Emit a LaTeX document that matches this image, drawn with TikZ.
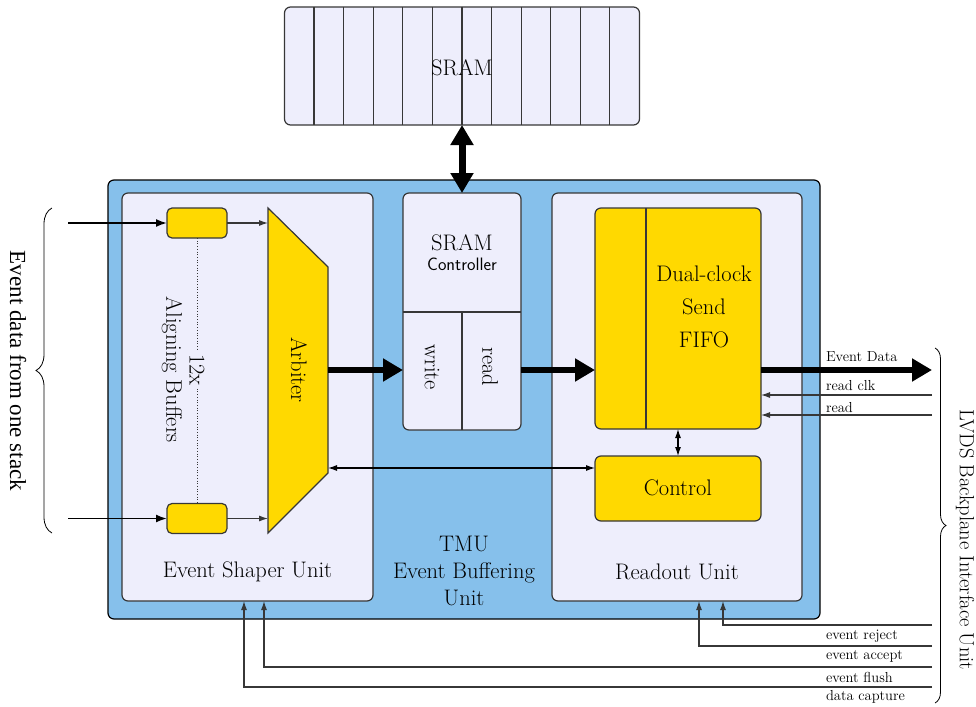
\documentclass[tikz,border=0pt]{standalone}
\usepackage{fontspec}
\newfontfamily\timesfont{Liberation Serif}
\usetikzlibrary{arrows.meta,decorations.pathreplacing,calc}

\definecolor{lav}{RGB}{238,238,252}
\definecolor{tmublue}{RGB}{134,192,235}
\definecolor{gold}{RGB}{255,217,0}
\definecolor{edge}{RGB}{55,55,55}

\begin{document}
\begin{tikzpicture}[x=1pt,y=-1pt,
  line width=1.2pt,
  every node/.style={inner sep=0pt, outer sep=0pt},
  unitbox/.style={draw=edge, fill=lav, rounded corners=6pt},
  goldbox/.style={draw=edge, fill=gold, rounded corners=6pt},
  bigtxt/.style={font=\fontsize{22.5}{27}\selectfont},
  sanstxt/.style={font=\sffamily\fontsize{18}{21}\selectfont},
  sigtxt/.style={font=\fontsize{14.5}{17}\selectfont, anchor=west},
  bus/.style={line width=6pt, -{Triangle[length=20pt,width=22pt]}},
  busboth/.style={line width=7pt, {Triangle[length=20pt,width=22pt]}-{Triangle[length=20pt,width=22pt]}},
  sig/.style={line width=1.1pt, draw=edge, -{Latex[length=9pt,width=6pt]}},
  sigboth/.style={line width=1.1pt, {Latex[length=9pt,width=6pt]}-{Latex[length=9pt,width=6pt]}},
  feed/.style={line width=1.8pt, -{Latex[length=11pt,width=8pt]}},
  bracestyle/.style={decorate, line width=0.8pt}
]
\useasboundingbox (0,0) rectangle (976,706);

% external SRAM with its twelve banks
\node[unitbox, minimum width=355pt, minimum height=118pt] (sram) at (462,66) {};
\foreach \k in {1,...,11}
  \draw[edge] ([xshift=\k*29.58pt]sram.north west) -- ([xshift=\k*29.58pt]sram.south west);
\node[bigtxt] (sramlbl) at (462,68) {SRAM};

% TMU frame and its three units
\node[draw=black, fill=tmublue, rounded corners=6pt, minimum width=712pt, minimum height=439pt] (tmu) at (464,399.5) {};
\node[unitbox, minimum width=251pt, minimum height=408pt] (esu) at (247.5,397) {};
\node[unitbox, minimum width=118pt, minimum height=237pt] (sramctrl) at (462,311.5) {};
\node[unitbox, minimum width=250pt, minimum height=408pt] (rou) at (677,397) {};

\node[bigtxt, align=center] (tmulbl) at (464,571) {TMU\\Event Buffering\\Unit};
\node[bigtxt] (esulbl) at (247.5,572) {Event Shaper Unit};
\node[bigtxt] (roulbl) at (677,572) {Readout Unit};

% SRAM controller partitions
\coordinate (split) at (462,312);
\draw[edge] (split -| sramctrl.west) -- (split -| sramctrl.east);
\draw[edge] (split) -- (split |- sramctrl.south);
\node[bigtxt] (ctrlsram) at (462,243) {SRAM};
\node[sanstxt] (ctrlword) at (462,264) {Controller};
\node[bigtxt, rotate=-90] (wr) at (432,367) {write};
\node[bigtxt, rotate=-90] (rd) at (490,367) {read};

% aligning buffers and arbiter
\node[goldbox, rounded corners=5pt, minimum width=60pt, minimum height=30pt] (buftop) at (197,223) {};
\node[goldbox, rounded corners=5pt, minimum width=60pt, minimum height=30pt] (bufbot) at (197,518.5) {};
\node[bigtxt, rotate=-90, inner sep=3pt] (twelve) at (197,370) {12x};
\node[bigtxt, rotate=-90] (alignlbl) at (172,370) {Aligning Buffers};
\draw[edge, line width=0.7pt, dotted] (buftop) -- (twelve);
\draw[edge, line width=0.7pt, dotted] (twelve) -- (bufbot);

\draw[draw=edge, fill=gold] (268,208) -- (328,267) -- (328,473) -- (268,533) -- cycle;
\node[bigtxt, rotate=-90] (arb) at (299,370) {Arbiter};
\coordinate (arbleft) at (268,370);
\coordinate (arbright) at (328,370);
\coordinate (arbctl) at (328,468);

% readout unit blocks
\node[goldbox, minimum width=166pt, minimum height=221pt] (fifo) at (678,318.5) {};
\draw[edge] ([xshift=51pt]fifo.north west) -- ([xshift=51pt]fifo.south west);
\node[bigtxt, align=center] (fifolbl) at (704,307) {Dual-clock\\[6pt]Send\\[6pt]FIFO};
\node[goldbox, minimum width=166pt, minimum height=65pt] (control) at (678,488.5) {};
\node[bigtxt] (controllbl) at (678,488) {Control};

% data path
\draw[busboth] (sram.south) -- (sramctrl.north);
\draw[bus] (arbright) -- (arbright -| sramctrl.west);
\draw[bus] (arbright -| sramctrl.east) -- (arbright -| fifo.west);
\coordinate (ed) at (932,370);
\draw[bus] (ed -| fifo.east) -- (ed);

% inputs from the stack
\coordinate (in1) at (68,223);
\coordinate (in12) at (68,518.5);
\draw[feed] (in1) -- (buftop.west);
\draw[feed] (in12) -- (bufbot.west);
\draw[sig] (buftop.east) -- (buftop.east -| arbleft);
\draw[sig] (bufbot.east) -- (bufbot.east -| arbleft);

% control links
\draw[sigboth] (arbctl) -- (arbctl -| control.west);
\draw[sigboth] (fifo.south) -- (control.north);

% backplane signals into the readout FIFO
\coordinate (rclk) at (932,395);
\coordinate (rdsig) at (932,415);
\draw[sig] (rclk) -- (rclk -| fifo.east);
\draw[sig] (rdsig) -- (rdsig -| fifo.east);
\node[sigtxt] (edlbl) at (826,357) {Event Data};
\node[sigtxt] (rclklbl) at (826,386) {read clk};
\node[sigtxt] (rdlbl) at (826,408) {read};

% backplane trigger signals
\coordinate (rej) at (932,625);
\coordinate (acc) at (932,646);
\coordinate (flu) at (932,667);
\coordinate (cap) at (932,687);
\draw[sig] (rej) -| ([xshift=46pt]rou.south);
\draw[sig] (acc) -| ([xshift=22pt]rou.south);
\draw[sig] (flu) -| ([xshift=16.5pt]esu.south);
\draw[sig] (cap) -| ([xshift=-3.5pt]esu.south);
\node[sigtxt] (rejlbl) at (826,636) {event reject};
\node[sigtxt] (acclbl) at (826,656) {event accept};
\node[sigtxt] (flulbl) at (826,677) {event flush};
\node[sigtxt] (caplbl) at (826,697) {data capture};

% interface braces
\draw[bracestyle, decoration={brace, amplitude=16pt}] (52,533) -- (52,208);
\node[rotate=-90, font=\timesfont\fontsize{23}{27}\selectfont] (stacklbl) at (18,371) {Event data from one stack};
\draw[bracestyle, decoration={brace, amplitude=11pt}] (935,348) -- (935,703);
\node[rotate=-90, font=\fontsize{20.5}{24}\selectfont] (lvdslbl) at (965,540) {LVDS Backplane Interface Unit};
\end{tikzpicture}
\end{document}
